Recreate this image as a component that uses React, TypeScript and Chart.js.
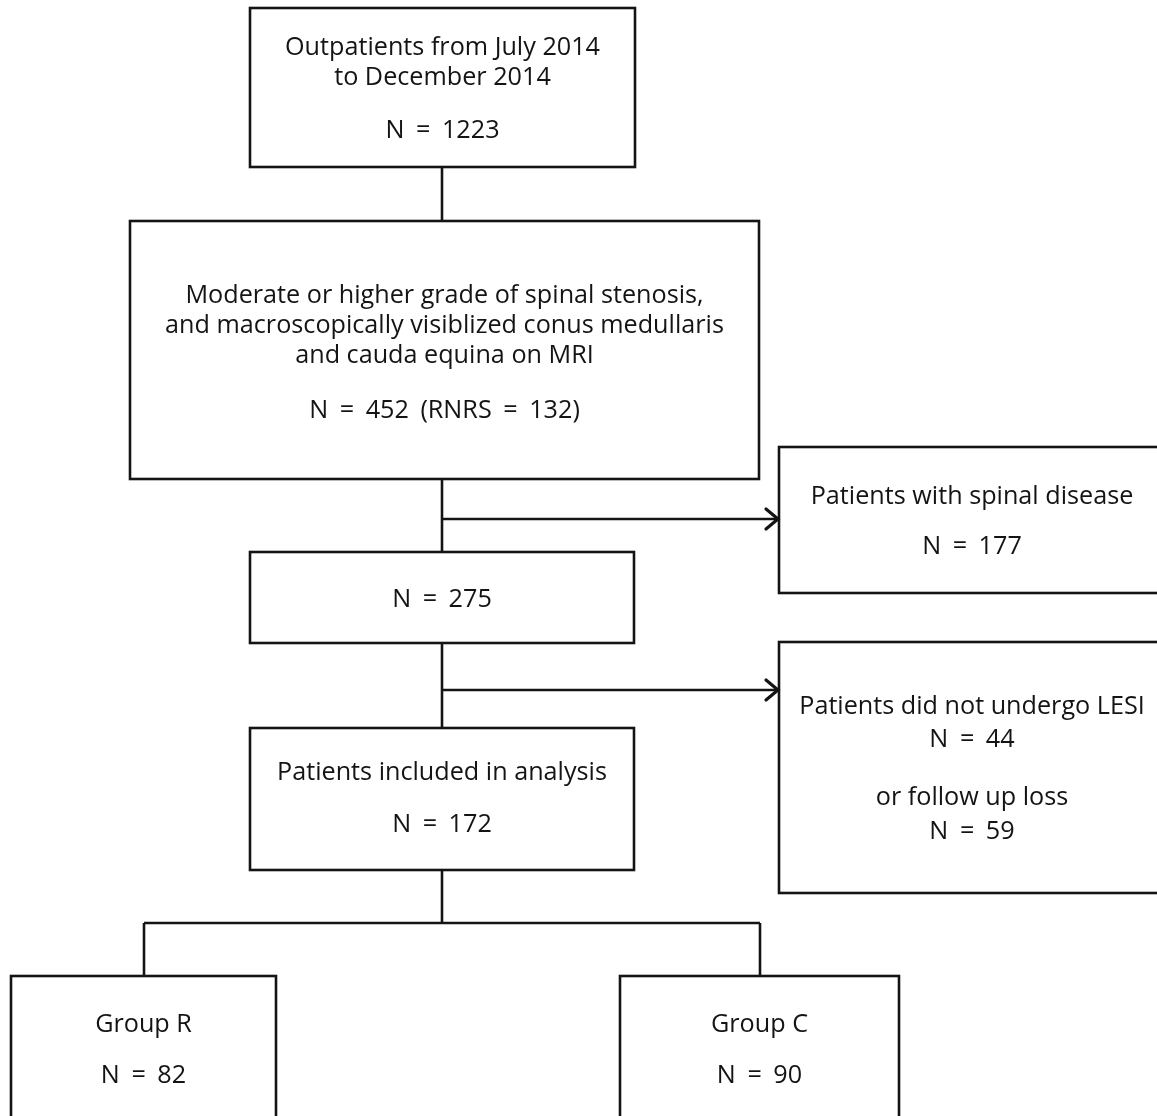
import React, { useEffect, useRef } from "react";
import { Chart, registerables } from "chart.js";

Chart.register(...registerables);

// ---- content (data) ----
const stageTitles: string[][] = [
  ["Outpatients from July 2014", "to December 2014"],
  [
    "Moderate or higher grade of spinal stenosis,",
    "and macroscopically visiblized conus medullaris",
    "and cauda equina on MRI",
  ],
  [],
  ["Patients included in analysis"],
];
const stageCounts: number[] = [1223, 452, 275, 172];
const rnrsCount = 132;

const exclusionTitles: string[] = [
  "Patients with spinal disease",
  "Patients did not undergo LESI",
  "or follow up loss",
];
const exclusionCounts: number[] = [177, 44, 59];

const groupNames: string[] = ["Group R", "Group C"];
const groupCounts: number[] = [82, 90];

// ---- layout (geometry in chart units, separate from data) ----
type Box = { x0: number; x1: number; y0: number; y1: number; lineYs: number[] };
const stageBoxes: Box[] = [
  { x0: 250, x1: 635, y0: 8, y1: 167, lineYs: [48, 78, 131] },
  { x0: 130, x1: 759, y0: 221, y1: 479, lineYs: [296, 326, 356, 411] },
  { x0: 250, x1: 634, y0: 552, y1: 643, lineYs: [600] },
  { x0: 250, x1: 634, y0: 728, y1: 870, lineYs: [773, 825] },
];
const exclusionBoxes: Box[] = [
  { x0: 779, x1: 1165, y0: 447, y1: 593, lineYs: [497, 547] },
  { x0: 779, x1: 1165, y0: 642, y1: 893, lineYs: [707, 740, 798, 832] },
];
const groupBoxes: Box[] = [
  { x0: 11, x1: 276, y0: 976, y1: 1140, lineYs: [1025, 1076] },
  { x0: 620, x1: 899, y0: 976, y1: 1140, lineYs: [1025, 1076] },
];
const connectors: number[][] = [
  [442, 167, 442, 221],
  [442, 479, 442, 552],
  [442, 643, 442, 728],
  [442, 870, 442, 923],
  [144, 923, 760, 923],
  [144, 923, 144, 976],
  [760, 923, 760, 976],
];
const arrows: number[][] = [
  [442, 519, 779, 519],
  [442, 690, 779, 690],
];

const W = 1157;
const H = 1116;
const FONT = '25.2px "Open Sans", "Noto Sans", sans-serif';
const INK = "#141414";

function buildBoxes() {
  const items: { box: Box; lines: string[] }[] = [];
  stageBoxes.forEach((b, i) => {
    const lines = [...stageTitles[i]];
    if (i === 1) lines.push(`N = ${stageCounts[i]} (RNRS = ${rnrsCount})`);
    else lines.push(`N = ${stageCounts[i]}`);
    items.push({ box: b, lines });
  });
  items.push({
    box: exclusionBoxes[0],
    lines: [exclusionTitles[0], `N = ${exclusionCounts[0]}`],
  });
  items.push({
    box: exclusionBoxes[1],
    lines: [
      exclusionTitles[1],
      `N = ${exclusionCounts[1]}`,
      exclusionTitles[2],
      `N = ${exclusionCounts[2]}`,
    ],
  });
  groupBoxes.forEach((b, i) => {
    items.push({ box: b, lines: [groupNames[i], `N = ${groupCounts[i]}`] });
  });
  return items;
}

const flowPlugin = {
  id: "flowchart",
  afterDatasetsDraw(chart: any) {
    const ctx = chart.ctx as any;
    const xs = chart.scales.x;
    const ys = chart.scales.y;
    const px = (v: number) => xs.getPixelForValue(v);
    const py = (v: number) => ys.getPixelForValue(v);
    ctx.save();
    ctx.strokeStyle = INK;
    ctx.fillStyle = INK;
    ctx.lineWidth = 2.6;
    ctx.lineCap = "butt";
    ctx.lineJoin = "miter";

    connectors.forEach(([x0, y0, x1, y1]) => {
      ctx.beginPath();
      ctx.moveTo(px(x0), py(y0));
      ctx.lineTo(px(x1), py(y1));
      ctx.stroke();
    });
    arrows.forEach(([x0, y0, x1, y1]) => {
      ctx.beginPath();
      ctx.moveTo(px(x0), py(y0));
      ctx.lineTo(px(x1) - 1, py(y1));
      ctx.stroke();
      ctx.beginPath();
      ctx.lineWidth = 3.2;
      ctx.lineCap = "round";
      ctx.moveTo(px(x1) - 13, py(y1) - 10);
      ctx.lineTo(px(x1) - 1, py(y1));
      ctx.lineTo(px(x1) - 13, py(y1) + 10);
      ctx.stroke();
      ctx.lineCap = "butt";
      ctx.lineWidth = 2.6;
    });

    ctx.font = FONT;
    ctx.textAlign = "center";
    ctx.textBaseline = "middle";
    buildBoxes().forEach(({ box, lines }) => {
      const l = px(box.x0), r = px(box.x1), t = py(box.y0), b = py(box.y1);
      ctx.strokeRect(l, t, r - l, b - t);
      const cx = (l + r) / 2;
      lines.forEach((s: string, k: number) => {
        ctx.wordSpacing = s.startsWith("N =") ? "5px" : "0px";
        ctx.fillText(s, cx, py(box.lineYs[k]));
      });
    });
    ctx.restore();
  },
};

export default function App() {
  const ref = useRef<HTMLCanvasElement | null>(null);
  useEffect(() => {
    document.body.style.margin = "0";
    document.body.style.background = "#ffffff";
    const canvas = ref.current!;
    const centers = buildBoxes().map(({ box }) => ({
      x: (box.x0 + box.x1) / 2,
      y: (box.y0 + box.y1) / 2,
    }));
    const chart = new Chart(canvas, {
      type: "scatter",
      data: {
        datasets: [
          {
            label: "boxes",
            data: centers,
            pointRadius: 0,
            pointHoverRadius: 0,
          },
        ],
      },
      options: {
        responsive: false,
        animation: false,
        layout: { padding: 0 },
        events: [],
        plugins: {
          legend: { display: false },
          tooltip: { enabled: false },
          title: { display: false },
        },
        scales: {
          x: { type: "linear", min: 0, max: W, display: false },
          y: { type: "linear", min: 0, max: H, reverse: true, display: false },
        },
      },
      plugins: [flowPlugin],
    });
    return () => chart.destroy();
  }, []);
  return (
    <div style={{ width: W, height: H, background: "#fff" }}>
      <canvas ref={ref} width={W} height={H} style={{ display: "block" }} />
    </div>
  );
}
